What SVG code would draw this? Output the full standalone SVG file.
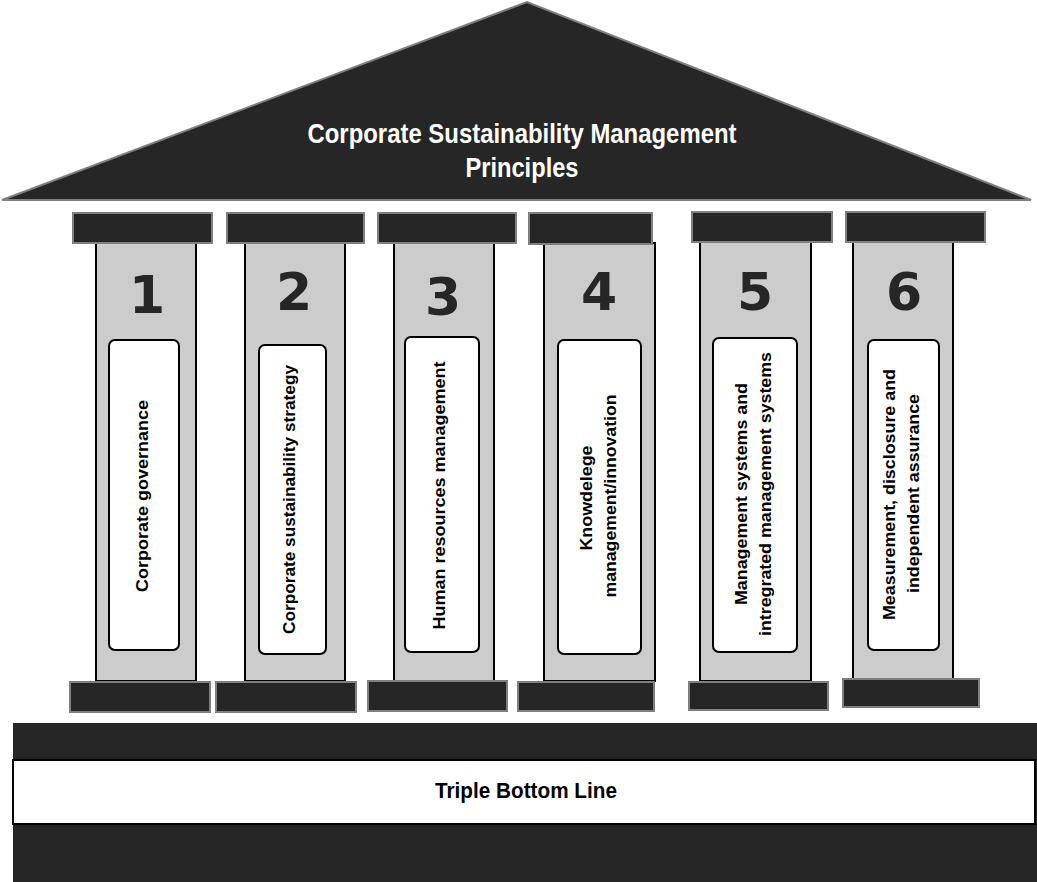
<svg xmlns="http://www.w3.org/2000/svg" width="1037" height="882" viewBox="0 0 1037 882">
<style>
.cap{fill:#262626;stroke:#7f7f7f;stroke-width:2}
.shaft{fill:#cccccc;stroke:#000;stroke-width:2}
.box{fill:#fff;stroke:#000;stroke-width:2}
.num{font-family:"DejaVu Sans",sans-serif;font-weight:bold;font-size:52px;fill:#262626;text-anchor:middle}
.vt{font-family:"Liberation Sans",Arial,sans-serif;font-weight:bold;font-size:17px;fill:#000;text-anchor:middle}
.title{font-family:"Liberation Sans",Arial,sans-serif;font-weight:bold;font-size:28px;fill:#fff;text-anchor:middle}
</style>
<rect width="1037" height="882" fill="#fff"/>
<g id="roof">
<polygon points="2,200 527,2 1031,200" fill="#262626" stroke="#7f7f7f" stroke-width="2"/>
<text class="title" x="522" y="143" textLength="429" lengthAdjust="spacingAndGlyphs">Corporate Sustainability Management</text>
<text class="title" x="522" y="177" textLength="113" lengthAdjust="spacingAndGlyphs">Principles</text>
</g>
<g id="foundation">
<rect x="13" y="723" width="1024" height="159" fill="#262626"/>
<rect x="13" y="760" width="1022" height="64" fill="#fff" stroke="#000" stroke-width="2"/>
<text x="526" y="798" font-family="Liberation Sans, Arial, sans-serif" font-weight="bold" font-size="22" fill="#000" text-anchor="middle" textLength="182" lengthAdjust="spacingAndGlyphs">Triple Bottom Line</text>
</g>
<g id="pillar1">
<rect class="shaft" x="96" y="243" width="100" height="438"/>
<rect class="cap" x="73" y="213" width="139" height="30"/>
<rect class="cap" x="70" y="682" width="140" height="30"/>
<text class="num" x="147" y="313">1</text>
<rect class="box" x="109" y="340" width="70" height="310" rx="6"/>
<text class="vt" transform="translate(147.5,496) rotate(-90)" textLength="192" lengthAdjust="spacingAndGlyphs">Corporate governance</text>
</g>
<g id="pillar2">
<rect class="shaft" x="245" y="243" width="100" height="438"/>
<rect class="cap" x="227" y="213" width="137" height="30"/>
<rect class="cap" x="216" y="682" width="140" height="30"/>
<text class="num" x="294" y="310">2</text>
<rect class="box" x="259" y="345" width="67" height="309" rx="6"/>
<text class="vt" transform="translate(295,499.5) rotate(-90)" textLength="269" lengthAdjust="spacingAndGlyphs">Corporate sustainability strategy</text>
</g>
<g id="pillar3">
<rect class="shaft" x="394" y="243" width="100" height="438"/>
<rect class="cap" x="378" y="213" width="138" height="30"/>
<rect class="cap" x="368" y="681" width="139" height="30"/>
<text class="num" x="443" y="315">3</text>
<rect class="box" x="405" y="337" width="74" height="315" rx="6"/>
<text class="vt" transform="translate(444.5,495.5) rotate(-90)" textLength="268" lengthAdjust="spacingAndGlyphs">Human resources management</text>
</g>
<g id="pillar4">
<rect class="shaft" x="544" y="243" width="111" height="438"/>
<rect class="cap" x="529" y="213" width="123" height="31"/>
<rect class="cap" x="518" y="682" width="136" height="29"/>
<text class="num" x="599" y="310">4</text>
<rect class="box" x="558" y="340" width="83" height="314" rx="6"/>
<text class="vt" transform="translate(592,498) rotate(-90)" textLength="105" lengthAdjust="spacingAndGlyphs">Knowdelege</text>
<text class="vt" transform="translate(616,496) rotate(-90)" textLength="203" lengthAdjust="spacingAndGlyphs">management/innovation</text>
</g>
<g id="pillar5">
<rect class="shaft" x="700" y="242" width="111" height="439"/>
<rect class="cap" x="692" y="212" width="140" height="30"/>
<rect class="cap" x="689" y="682" width="139" height="28"/>
<text class="num" x="755" y="310">5</text>
<rect class="box" x="713" y="338" width="84" height="314" rx="6"/>
<text class="vt" transform="translate(746.5,494) rotate(-90)" textLength="222" lengthAdjust="spacingAndGlyphs">Management systems and</text>
<text class="vt" transform="translate(770.5,494) rotate(-90)" textLength="284" lengthAdjust="spacingAndGlyphs">intregrated management systems</text>
</g>
<g id="pillar6">
<rect class="shaft" x="853" y="242" width="100" height="437"/>
<rect class="cap" x="846" y="212" width="139" height="30"/>
<rect class="cap" x="843" y="679" width="136" height="28"/>
<text class="num" x="904" y="310">6</text>
<rect class="box" x="868" y="340" width="71" height="310" rx="6"/>
<text class="vt" transform="translate(895,494.5) rotate(-90)" textLength="251" lengthAdjust="spacingAndGlyphs">Measurement, disclosure and</text>
<text class="vt" transform="translate(919,493.5) rotate(-90)" textLength="199" lengthAdjust="spacingAndGlyphs">independent assurance</text>
</g>
<g id="connectors"></g>
</svg>
